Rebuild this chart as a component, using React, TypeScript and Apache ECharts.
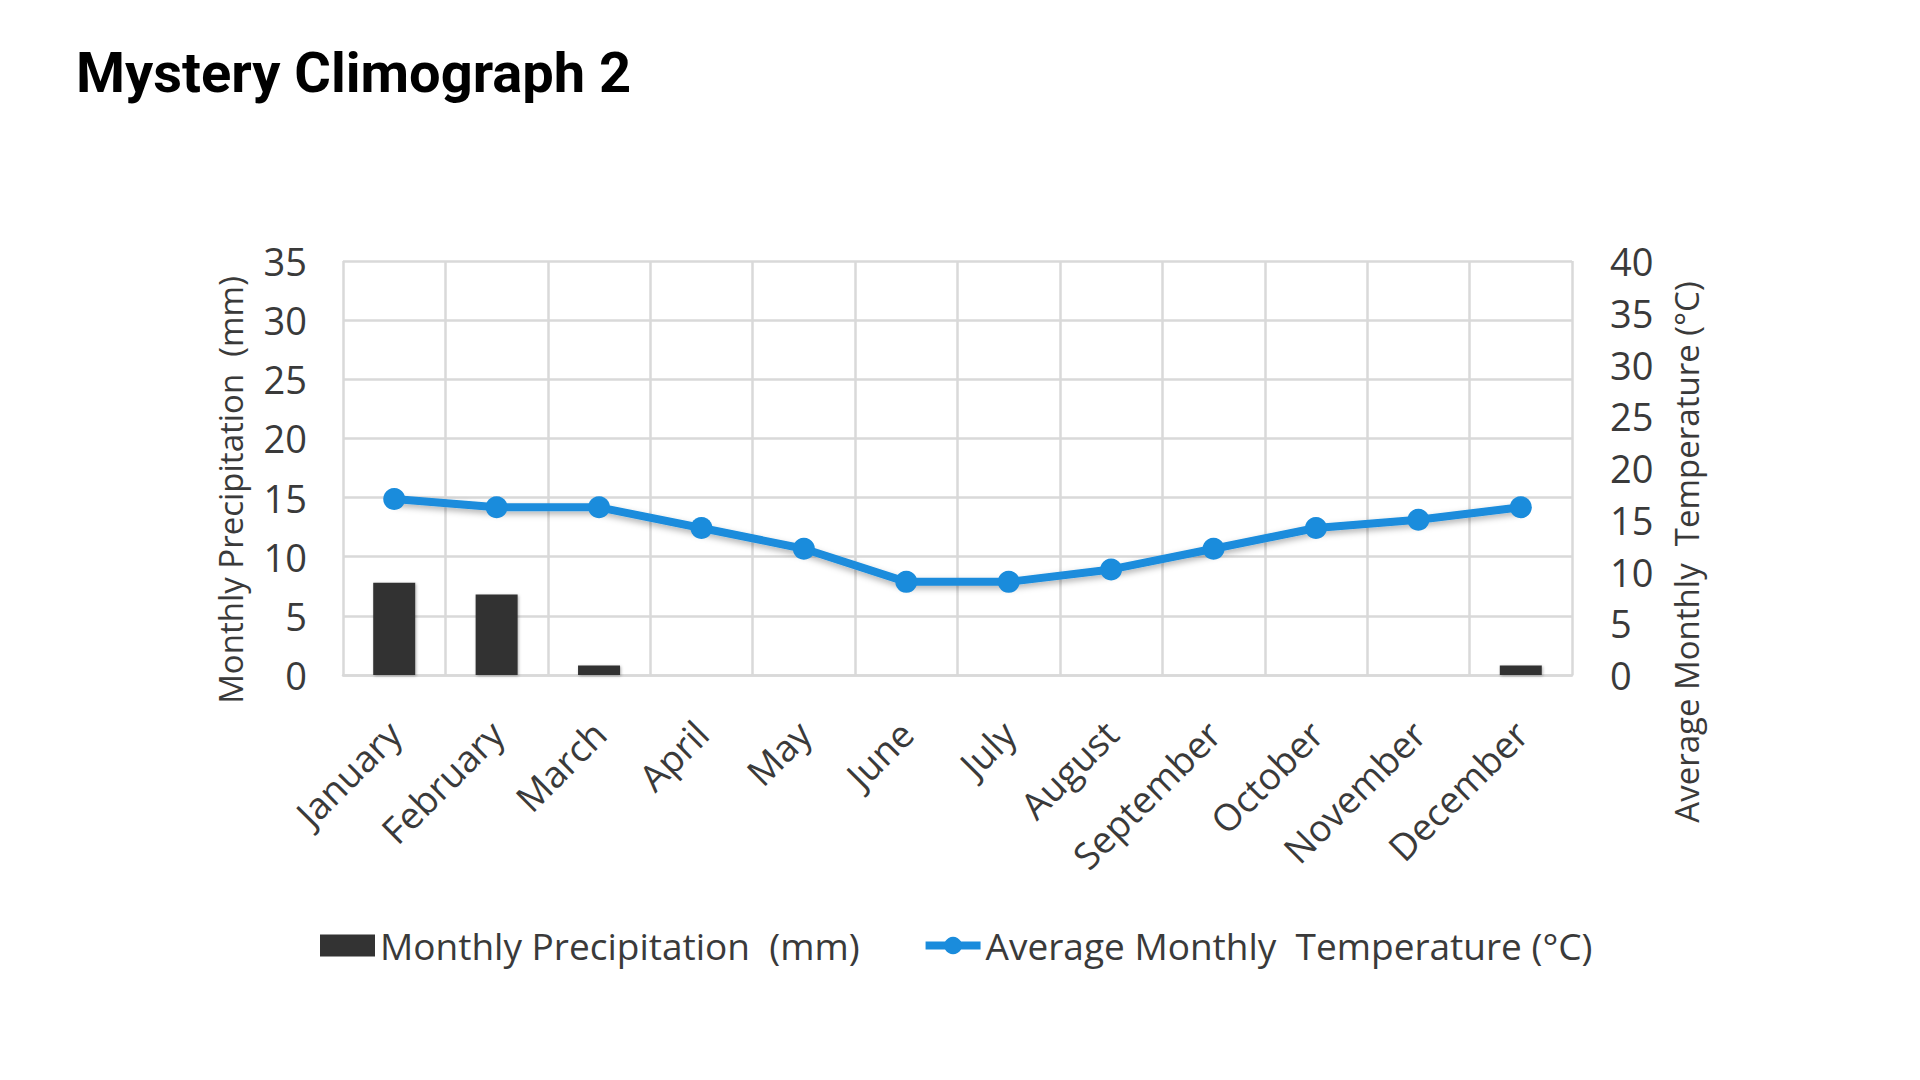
import React, { useEffect, useRef } from "react";
import * as echarts from "echarts";

const months = [
  "January", "February", "March", "April", "May", "June",
  "July", "August", "September", "October", "November", "December",
];
const precipitation = [7.8, 6.8, 0.8, 0, 0, 0, 0, 0, 0, 0, 0, 0.8];
const temperature = [17, 16.2, 16.2, 14.2, 12.2, 9, 9, 10.2, 12.2, 14.2, 15, 16.2];

const titleText = "Mystery Climograph 2";
const precipName = "Monthly Precipitation  (mm)";
const tempName = "Average Monthly  Temperature (°C)";

const FONT = "'Open Sans', Lato, sans-serif";
const GRID_COLOR = "#d9d9d9";
const TEXT_COLOR = "#3a3a3a";
const BLUE = "#1a8cdc";

export default function App() {
  const ref = useRef<HTMLDivElement>(null);
  useEffect(() => {
    if (!ref.current) return;
    const chart = echarts.init(ref.current, undefined, { renderer: "svg" });
    chart.setOption({
      animation: false,
      backgroundColor: "#ffffff",
      title: {
        text: titleText,
        left: 71,
        top: 40,
        textStyle: {
          fontFamily: "Roboto, sans-serif",
          fontWeight: "bold",
          fontSize: 56,
          color: "#000000",
        },
      },
      grid: { left: 343, right: 348, top: 261, bottom: 405 },
      legend: {
        left: 315,
        top: 922,
        itemWidth: 55,
        itemHeight: 22,
        itemGap: 62,
        textStyle: { fontFamily: FONT, fontSize: 37, color: TEXT_COLOR },
        data: [
          { name: precipName, icon: "rect" },
          { name: tempName, lineStyle: { width: 8 } },
        ],
      },
      xAxis: {
        type: "category",
        data: months,
        boundaryGap: true,
        axisLine: { show: true, lineStyle: { color: GRID_COLOR, width: 2.5 } },
        axisTick: { show: false },
        splitLine: { show: true, lineStyle: { color: GRID_COLOR, width: 2.5 } },
        axisLabel: {
          interval: 0,
          rotate: 45,
          margin: 52,
          fontFamily: FONT,
          fontSize: 37,
          color: TEXT_COLOR,
        },
      },
      yAxis: [
        {
          type: "value",
          min: 0,
          max: 35,
          interval: 5,
          axisLine: { show: false },
          axisTick: { show: false },
          splitLine: { show: true, lineStyle: { color: GRID_COLOR, width: 2.5 } },
          axisLabel: { margin: 36, fontFamily: FONT, fontSize: 38, color: TEXT_COLOR },
        },
        {
          type: "value",
          min: 0,
          max: 40,
          interval: 5,
          position: "right",
          axisLine: { show: false },
          axisTick: { show: false },
          splitLine: { show: false },
          axisLabel: { margin: 38, fontFamily: FONT, fontSize: 38, color: TEXT_COLOR },
        },
      ],
      graphic: [
        {
          type: "text",
          x: 230,
          y: 490,
          rotation: Math.PI / 2,
          style: {
            text: precipName,
            fontFamily: FONT,
            fontSize: 33,
            fill: TEXT_COLOR,
            align: "center",
            verticalAlign: "middle",
          },
        },
        {
          type: "text",
          x: 1686,
          y: 552,
          rotation: Math.PI / 2,
          style: {
            text: tempName,
            fontFamily: FONT,
            fontSize: 33,
            fill: TEXT_COLOR,
            align: "center",
            verticalAlign: "middle",
          },
        },
      ],
      series: [
        {
          name: precipName,
          type: "bar",
          yAxisIndex: 0,
          data: precipitation,
          barWidth: 42,
          itemStyle: {
            color: "#333333",
            shadowColor: "rgba(0,0,0,0.3)",
            shadowBlur: 3,
            shadowOffsetX: 1,
            shadowOffsetY: 1,
          },
        },
        {
          name: tempName,
          type: "line",
          yAxisIndex: 1,
          data: temperature,
          symbol: "circle",
          symbolSize: 22,
          lineStyle: {
            color: BLUE,
            width: 8,
            shadowColor: "rgba(0,0,0,0.3)",
            shadowBlur: 6,
            shadowOffsetY: 3,
          },
          itemStyle: { color: BLUE },
        },
      ],
    });
    return () => chart.dispose();
  }, []);
  return (
    <div
      ref={ref}
      style={{ position: "fixed", left: 0, top: 0, width: 1920, height: 1080 }}
    />
  );
}
